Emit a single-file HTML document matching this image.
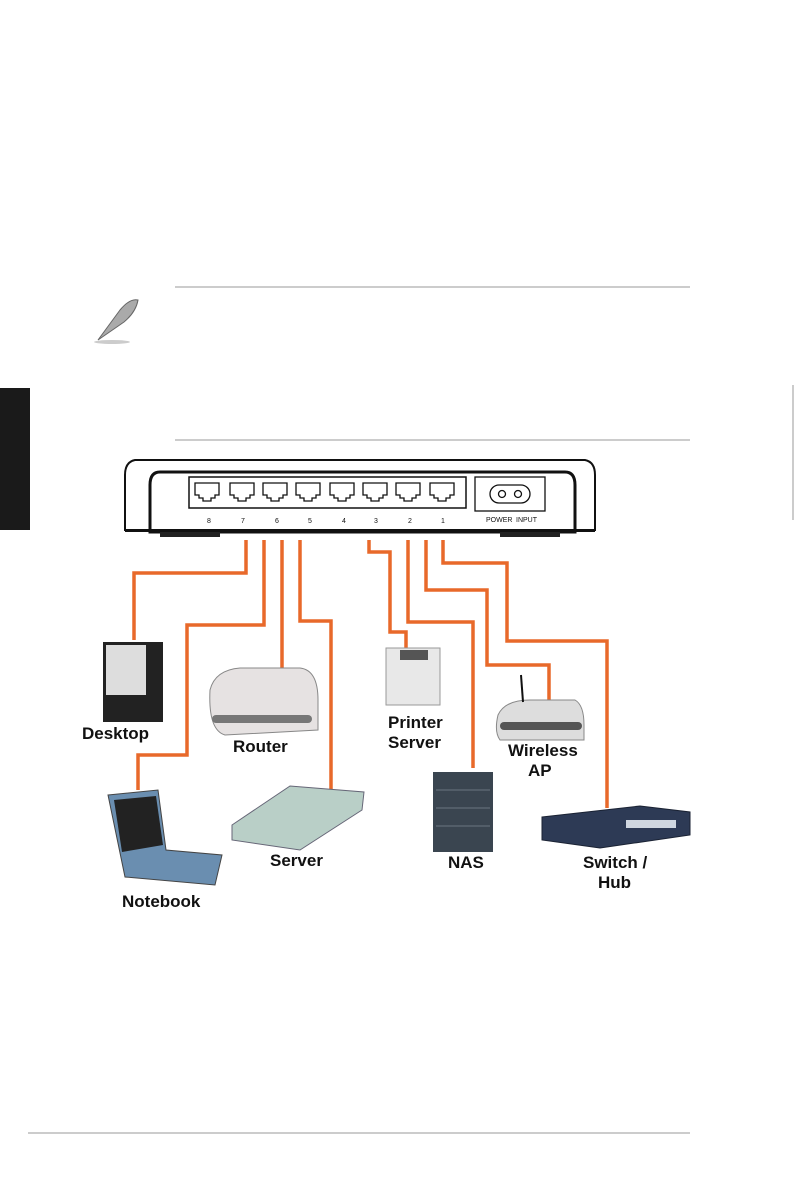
<!DOCTYPE html>
<html><head><meta charset="utf-8"><style>
body{margin:0;background:#fff;}
svg text{font-family:"Liberation Sans",Arial,sans-serif;font-weight:bold;font-size:17px;fill:#111;}
svg text.s{font-size:7px;font-weight:normal;}
</style></head><body>
<svg width="795" height="1197" viewBox="0 0 795 1197" xmlns="http://www.w3.org/2000/svg">
<rect x="0" y="388" width="30" height="142" fill="#1a1a1a"/>
<rect x="792" y="385" width="2" height="135" fill="#ccc"/>
<line x1="175" y1="287" x2="690" y2="287" stroke="#999" stroke-width="1"/>
<line x1="175" y1="440" x2="690" y2="440" stroke="#999" stroke-width="1"/>
<line x1="28" y1="1133" x2="690" y2="1133" stroke="#999" stroke-width="1"/>
<path d="M98,340 L120,310 Q130,298 138,300 Q136,312 124,322 Z" fill="#aaa" stroke="#666" stroke-width="1"/>
<ellipse cx="112" cy="342" rx="18" ry="2" fill="#ccc"/>
<path d="M135,460 L585,460 Q595,462 595,475 L595,530 L125,530 L125,475 Q125,462 135,460 Z" fill="#fff" stroke="#111" stroke-width="2"/>
<path d="M160,472 L565,472 Q575,472 575,485 L575,532 L150,532 L150,485 Q150,472 160,472 Z" fill="#fff" stroke="#111" stroke-width="3"/>
<rect x="160" y="532" width="60" height="5" fill="#222"/><rect x="500" y="532" width="60" height="5" fill="#222"/>
<rect x="125" y="529" width="470" height="3" fill="#111"/>
<rect x="189" y="477" width="277" height="31" fill="none" stroke="#111" stroke-width="1.5"/>
<g fill="none" stroke="#111" stroke-width="1.3">
<path d="M195,483h24v12h-4v3h-4v3h-8v-3h-4v-3h-4z"/>
<path d="M230,483h24v12h-4v3h-4v3h-8v-3h-4v-3h-4z"/>
<path d="M263,483h24v12h-4v3h-4v3h-8v-3h-4v-3h-4z"/>
<path d="M296,483h24v12h-4v3h-4v3h-8v-3h-4v-3h-4z"/>
<path d="M330,483h24v12h-4v3h-4v3h-8v-3h-4v-3h-4z"/>
<path d="M363,483h24v12h-4v3h-4v3h-8v-3h-4v-3h-4z"/>
<path d="M396,483h24v12h-4v3h-4v3h-8v-3h-4v-3h-4z"/>
<path d="M430,483h24v12h-4v3h-4v3h-8v-3h-4v-3h-4z"/>
<rect x="475" y="477" width="70" height="34"/>
<rect x="490" y="485" width="40" height="18" rx="9"/>
<circle cx="502" cy="494" r="3.5"/><circle cx="518" cy="494" r="3.5"/>
</g>
<text class="s" x="207" y="523">8</text><text class="s" x="241" y="523">7</text><text class="s" x="275" y="523">6</text><text class="s" x="308" y="523">5</text><text class="s" x="342" y="523">4</text><text class="s" x="374" y="523">3</text><text class="s" x="408" y="523">2</text><text class="s" x="441" y="523">1</text>
<text class="s" x="486" y="522">POWER</text><text class="s" x="516" y="522">INPUT</text>
<g fill="none" stroke="#e8692a" stroke-width="3.5">
<path d="M246,540V573H134V640"/>
<path d="M264,540V625H187V755H138V790"/>
<path d="M282,540V675"/>
<path d="M300,540V621H331V793"/>
<path d="M369,540V552H390V632H406V648"/>
<path d="M408,540V622H473V768"/>
<path d="M426,540V590H487V665H549V700"/>
<path d="M443,540V563H507V641H607V808"/>
</g>
<rect x="103" y="642" width="60" height="80" fill="#222"/>
<rect x="106" y="645" width="40" height="50" fill="#ddd"/>
<path d="M210,690 Q215,670 240,668 L300,668 Q318,670 318,700 L318,730 L225,735 Q208,730 210,690 Z" fill="#e6e2e2" stroke="#888"/>
<rect x="212" y="715" width="100" height="8" rx="4" fill="#777"/>
<rect x="386" y="648" width="54" height="57" fill="#e8e8e8" stroke="#999"/>
<rect x="400" y="650" width="28" height="10" fill="#555"/>
<path d="M498,715 Q505,700 530,700 L575,700 Q584,705 584,725 L584,740 L500,740 Q494,732 498,715Z" fill="#ddd" stroke="#888"/>
<rect x="500" y="722" width="82" height="8" rx="4" fill="#555"/>
<line x1="523" y1="702" x2="521" y2="675" stroke="#111" stroke-width="2"/>
<path d="M108,795 L158,790 L166,850 L222,855 L215,885 L125,877 Z" fill="#6a8eb0" stroke="#444"/>
<path d="M114,800 L156,796 L163,845 L122,852 Z" fill="#222"/>
<path d="M232,825 L290,786 L364,792 L362,810 L300,850 L232,840 Z" fill="#b9cfc7" stroke="#667"/>
<rect x="433" y="772" width="60" height="80" fill="#3a4550"/>
<g stroke="#6a7580"><line x1="436" y1="790" x2="490" y2="790"/><line x1="436" y1="808" x2="490" y2="808"/><line x1="436" y1="826" x2="490" y2="826"/></g>
<path d="M542,817 L640,806 L690,812 L690,835 L600,848 L542,840 Z" fill="#2d3a55" stroke="#1a2233"/>
<rect x="626" y="820" width="50" height="8" fill="#cfd6e0"/>
<text x="82" y="739">Desktop</text>
<text x="233" y="752">Router</text>
<text x="388" y="728">Printer</text>
<text x="388" y="748">Server</text>
<text x="508" y="756">Wireless</text>
<text x="528" y="776">AP</text>
<text x="270" y="866">Server</text>
<text x="448" y="868">NAS</text>
<text x="583" y="868">Switch /</text>
<text x="598" y="888">Hub</text>
<text x="122" y="907">Notebook</text>
</svg>
</body></html>
